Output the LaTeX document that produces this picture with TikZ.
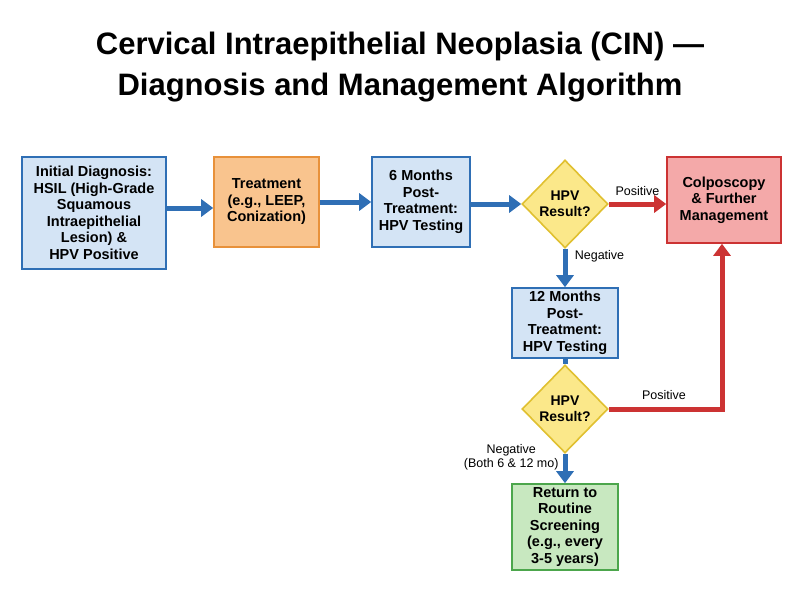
\documentclass[tikz,border=0pt]{standalone}
\usepackage{fontspec}
\setmainfont{Liberation Sans}
\usetikzlibrary{shapes.geometric,arrows.meta}
\definecolor{bB}{HTML}{2F6FB5}\definecolor{bF}{HTML}{D4E4F5}
\definecolor{oB}{HTML}{E8913A}\definecolor{oF}{HTML}{F9C48E}
\definecolor{rB}{HTML}{CC3333}\definecolor{rF}{HTML}{F4A9A9}
\definecolor{gB}{HTML}{4CA64C}\definecolor{gF}{HTML}{C8E8C0}
\definecolor{yB}{HTML}{E0C030}\definecolor{yF}{HTML}{FBE88A}
\begin{document}
\begin{tikzpicture}[x=1pt,y=-1pt,
 box/.style={draw=#1B,fill=#1F,line width=1.6pt,align=center,font=\bfseries\fontsize{14.5}{16.5}\selectfont,inner sep=1pt},
 dia/.style={diamond,draw=yB,fill=yF,line width=1.6pt,align=center,font=\bfseries\fontsize{14}{16}\selectfont,minimum width=86pt,minimum height=88pt,inner sep=0pt},
 ba/.style={draw=bB,line width=5pt,-{Triangle[length=12pt,width=17pt]}},
 ra/.style={draw=rB,line width=5pt,-{Triangle[length=12pt,width=17pt]}},
 lab/.style={font=\fontsize{12.5}{14}\selectfont,align=center}]
\useasboundingbox (0,0) rectangle (800,600);
\node[font=\bfseries\fontsize{31}{41}\selectfont,align=center] (t) at (400,67) {Cervical Intraepithelial Neoplasia (CIN) —\\Diagnosis and Management Algorithm};
\node[box=b,minimum width=144pt,minimum height=112pt] (b1) at (94,213) {Initial Diagnosis:\\HSIL (High-Grade\\Squamous\\Intraepithelial\\Lesion) \&\\HPV Positive};
\node[box=o,minimum width=105pt,minimum height=90pt] (b2) at (266.5,202) {Treatment\\(e.g., LEEP,\\Conization)};
\node[box=b,minimum width=98pt,minimum height=90pt] (b3) at (421,202) {6 Months\\Post-\\Treatment:\\HPV Testing};
\node[dia] (d1) at (565,204) {HPV\\Result?};
\node[box=r,minimum width=114pt,minimum height=86pt] (b6) at (724,200) {Colposcopy\\\& Further\\Management};
\node[box=b,minimum width=106pt,minimum height=70pt] (b4) at (565,323) {12 Months\\Post-\\Treatment:\\HPV Testing};
\node[dia] (d2) at (565,409) {HPV\\Result?};
\node[box=g,minimum width=106pt,minimum height=86pt] (b5) at (565,527) {Return to\\Routine\\Screening\\(e.g., every\\3-5 years)};
\draw[ba] (b1.east|-0,208) -- (b2.west|-0,208);
\draw[ba] (b2) -- (b3);
\draw[ba] (b3.east|-0,204) -- (d1);
\draw[ra] (d1.east) -- (b6.west|-d1.east) node[lab,midway,above=3pt] {Positive};
\draw[ba] (d1.south) -- (b4.north) node[lab,pos=0.2,right=4pt] {Negative};
\draw[draw=bB,line width=5pt] (b4.south) -- (d2.north);
\draw[ra] (d2.east) -- (722,409) -- (b6.south-|722,0);
\node[lab] (p2) at (664,395) {Positive};
\draw[ba] (d2.south) -- (b5.north);
\node[lab,anchor=east] (n2) at (562,457) {Negative\\(Both 6 \& 12 mo)};
\end{tikzpicture}
\end{document}
